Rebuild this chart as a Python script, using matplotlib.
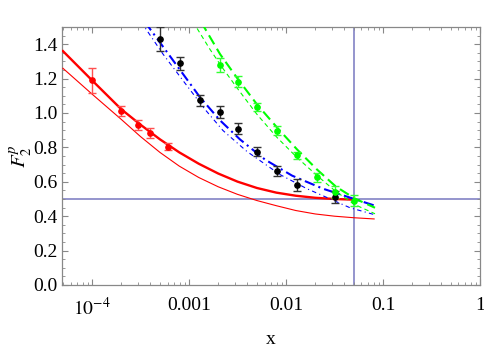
import numpy as np
import matplotlib
matplotlib.use("Agg")
import matplotlib.pyplot as plt
from matplotlib.ticker import FixedLocator, NullFormatter

plt.rcParams.update({
    "font.family": "Liberation Serif",
    "mathtext.fontset": "stix",
    "font.size": 14,
})

# ── Data ──────────────────────────────────────────────────────
# red data points
red_x = [1e-4, 2e-4, 3e-4, 4e-4, 6e-4]
red_y = [1.19, 1.013, 0.929, 0.885, 0.805]
red_err = [0.072, 0.03, 0.029, 0.029, 0.022]

# black data points
blk_x = [5e-4, 8e-4, 1.3e-3, 2.1e-3, 3.2e-3, 5e-3, 8e-3, 1.3e-2, 3.2e-2]
blk_y = [1.428, 1.289, 1.073, 1.005, 0.908, 0.774, 0.661, 0.583, 0.51]
blk_err = [0.07, 0.038, 0.034, 0.037, 0.032, 0.026, 0.03, 0.036, 0.035]

# green data points
grn_x = [2.1e-3, 3.2e-3, 5e-3, 8e-3, 1.3e-2, 2.1e-2, 3.2e-2, 5e-2]
grn_y = [1.28, 1.183, 1.035, 0.898, 0.753, 0.626, 0.541, 0.49]
grn_err = [0.039, 0.03, 0.026, 0.026, 0.022, 0.026, 0.035, 0.032]

# model curves
red_thick_x = [5.01e-5, 1e-4, 2e-4, 3.16e-4, 5.01e-4, 7.94e-4, 1.26e-3, 2e-3,
               3.16e-3, 5.01e-3, 7.94e-3, 1.26e-2, 2e-2, 3.16e-2, 5.01e-2]
red_thick_y = [1.36, 1.19, 1.022, 0.932, 0.847, 0.771, 0.705, 0.648,
               0.601, 0.564, 0.537, 0.519, 0.507, 0.500, 0.496]

red_thin_x = [5.01e-5, 1e-4, 2e-4, 3.16e-4, 5.01e-4, 7.94e-4, 1.26e-3, 2e-3,
              3.16e-3, 5.01e-3, 7.94e-3, 1.26e-2, 2e-2, 3.16e-2, 5.01e-2,
              8.1e-2]
red_thin_y = [1.26, 1.11, 0.963, 0.863, 0.771, 0.691, 0.625, 0.571,
              0.527, 0.491, 0.461, 0.433, 0.413, 0.400, 0.391, 0.384]

blue_thick_x = [3.5e-4, 6.37e-4, 1.3e-3, 2.09e-3, 3.36e-3, 6.08e-3, 1.153e-2,
                2.4e-2, 4.57e-2, 8.27e-2]
blue_thick_y = [1.53, 1.33, 1.091, 0.957, 0.846, 0.729, 0.636, 0.56, 0.508,
                0.461]

blue_thin_x = [3.2e-4, 5.4e-4, 9.1e-4, 1.46e-3, 2.24e-3, 3.96e-3, 8.67e-3,
               1.64e-2, 2.4e-2, 4.57e-2, 8.27e-2]
blue_thin_y = [1.53, 1.342, 1.173, 1.021, 0.898, 0.776, 0.642, 0.56, 0.519,
               0.449, 0.408]

grn_thick_x = [1.33e-3, 2.09e-3, 3.2e-3, 5.02e-3, 8.07e-3, 1.3e-2, 2.09e-2,
               3.27e-2, 5.14e-2, 8.27e-2]
grn_thick_y = [1.53, 1.342, 1.196, 1.05, 0.916, 0.788, 0.671, 0.572, 0.502,
               0.449]

grn_thin_x = [1.1e-3, 1.64e-3, 2.19e-3, 3.2e-3, 5.02e-3, 8.07e-3, 1.3e-2,
              2.09e-2, 3.27e-2, 5.14e-2, 8.27e-2]
grn_thin_y = [1.53, 1.371, 1.266, 1.138, 0.992, 0.858, 0.741, 0.636, 0.543,
              0.467, 0.414]

x_ticks = [1e-4, 1e-3, 1e-2, 1e-1, 1]
x_ticklabels = [r"$10^{-4}$", "0.001", "0.01", "0.1", "1"]
y_ticks = [0.0, 0.2, 0.4, 0.6, 0.8, 1.0, 1.2, 1.4]

# ── Figure ────────────────────────────────────────────────────
fig = plt.figure(figsize=(4.85, 3.47), dpi=100)
ax = fig.add_axes([0.1278, 0.1787, 0.8619, 0.7435])
ax.set_xscale("log")
ax.set_xlim(4.9e-5, 1)
ax.set_ylim(0, 1.5)

ax.axhline(0.5, color="#7878C0", lw=1.1, zorder=1)
ax.axvline(0.05, color="#7878C0", lw=1.1, zorder=1)

ax.plot(red_thick_x, red_thick_y, color="red", lw=1.7, zorder=3)
ax.plot(red_thin_x, red_thin_y, color="red", lw=0.8, zorder=3)

ax.plot(blue_thick_x, blue_thick_y, color="blue", lw=1.5,
        dashes=(5, 2, 1, 2), zorder=3)
ax.plot(blue_thin_x, blue_thin_y, color="blue", lw=0.8,
        dashes=(4, 3, 1, 3), zorder=3)
ax.plot(grn_thick_x, grn_thick_y, color="#00FF00", lw=1.5,
        dashes=(5, 2.5), zorder=3)
ax.plot(grn_thin_x, grn_thin_y, color="#00FF00", lw=0.8,
        dashes=(4, 3), zorder=3)

ax.errorbar(red_x, red_y, yerr=red_err, fmt="o", color="red", ms=3.8,
            ecolor="#FF5050", elinewidth=1.0, capsize=3, capthick=1.0, zorder=4)
ax.errorbar(blk_x, blk_y, yerr=blk_err, fmt="o", color="black", ms=3.8,
            ecolor="#333333", elinewidth=1.0, capsize=3, capthick=1.0, zorder=4)
ax.errorbar(grn_x, grn_y, yerr=grn_err, fmt="o", color="#00FF00", ms=3.8,
            ecolor="#33FF33", elinewidth=1.0, capsize=3, capthick=1.0, zorder=4)

# Frame and ticks
for s in ax.spines.values():
    s.set_color("#888888")
    s.set_linewidth(0.9)

ax.xaxis.set_major_locator(FixedLocator(x_ticks))
ax.set_xticklabels(x_ticklabels)
minor_x = [m * 10.0 ** e for e in range(-5, 0) for m in range(2, 10)]
ax.xaxis.set_minor_locator(FixedLocator(minor_x))
ax.xaxis.set_minor_formatter(NullFormatter())

ax.set_yticks(y_ticks)
ax.set_yticklabels([f"{v:.1f}" for v in y_ticks])
ax.set_yticks(np.arange(0, 1.51, 0.05), minor=True)

ax.tick_params(which="both", direction="in", top=True, right=True,
               color="#888888")
ax.tick_params(which="major", length=4.5, width=0.8)
ax.tick_params(which="minor", length=2.5, width=0.6)
ax.tick_params(axis="x", which="major", pad=9)
ax.tick_params(axis="y", which="major", pad=3)

ax.set_xlabel("x")
ax.xaxis.set_label_coords(0.5, -0.18)
ax.set_ylabel(r"$F_2^p$", fontsize=15)
ax.yaxis.set_label_coords(-0.068, 0.5)

fig.savefig("out.png", dpi=100)
